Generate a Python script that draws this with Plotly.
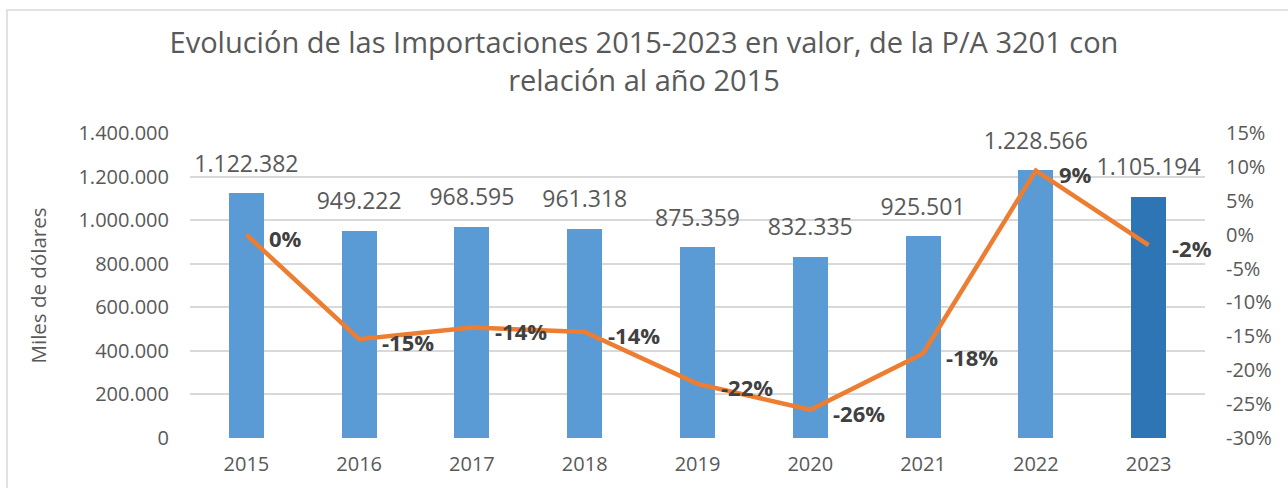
import plotly.graph_objects as go

years = ["2015", "2016", "2017", "2018", "2019", "2020", "2021", "2022", "2023"]
imports_value = [1122382, 949222, 968595, 961318, 875359, 832335, 925501, 1228566, 1105194]
pct_change = [0.0, -15.43, -13.70, -14.35, -22.01, -25.84, -17.54, 9.46, -1.53]
bar_colors = ["#5B9BD5"] * 8 + ["#2E75B6"]
left_ticks = [0, 200000, 400000, 600000, 800000, 1000000, 1200000, 1400000]
right_ticks = [-30, -25, -20, -15, -10, -5, 0, 5, 10, 15]
right_ticktext = [f"{v}%" for v in right_ticks]
pct_text = [f"{round(v):d}%" for v in pct_change]

FONT = "Open Sans"
GRAY = "#595959"

W, H = 1288, 488
L, R, T, B = 190, 83, 133, 50
PW, PH = W - L - R, H - T - B

fig = go.Figure()
fig.add_trace(go.Bar(
    x=years, y=imports_value, marker=dict(color=bar_colors, line=dict(width=0)),
    width=0.31, yaxis="y", hoverinfo="skip",
))
# bar value labels
fig.add_trace(go.Scatter(
    x=years, y=imports_value, mode="markers+text",
    marker=dict(size=24, color="rgba(0,0,0,0)"),
    text=[f"{v:,}".replace(",", ".") for v in imports_value],
    textposition="top center", textfont=dict(family=FONT, size=23, color=GRAY),
    cliponaxis=False, yaxis="y", hoverinfo="skip",
))
fig.add_trace(go.Scatter(
    x=years, y=pct_change, mode="lines", yaxis="y2",
    line=dict(color="#ED7D31", width=4.5),
    cliponaxis=False, hoverinfo="skip",
))

# percentage labels: x given as category index on the category axis
annotations = [
    dict(x=i, y=p, xref="x", yref="y2", text=t, showarrow=False,
         xanchor="left", yanchor="middle", xshift=21, yshift=-3,
         font=dict(family=FONT, size=22, color="#404040", weight="bold"))
    for i, (p, t) in enumerate(zip(pct_change, pct_text))
]

fig.update_layout(
    width=W, height=H, margin=dict(l=L, r=R, t=T, b=B),
    paper_bgcolor="white", plot_bgcolor="white", showlegend=False,
    separators=",.",
    font=dict(family=FONT, color=GRAY),
    title=dict(
        text="Evolución de las Importaciones 2015-2023 en valor, de la P/A 3201 con<br>relación al año 2015",
        x=0.5, xanchor="center", y=1 - 53 / H, yanchor="middle",
        font=dict(family=FONT, size=29, color=GRAY),
    ),
    bargap=0,
    xaxis=dict(
        type="category", categoryorder="array", categoryarray=years,
        range=[-0.5, len(years) - 0.5], autorange=False,
        showgrid=False, ticks="", showline=False,
        tickfont=dict(family=FONT, size=20, color=GRAY), ticklabelstandoff=12,
    ),
    yaxis=dict(
        range=[0, 1400000], tickvals=left_ticks, tickformat=",.0f",
        showgrid=True, gridcolor="#D9D9D9", gridwidth=1.5, zeroline=False,
        tickfont=dict(family=FONT, size=20, color=GRAY), ticks="", ticklabelstandoff=20,
        title=dict(text="Miles de dólares", font=dict(family=FONT, size=20.5, color=GRAY), standoff=26),
    ),
    yaxis2=dict(
        range=[-30, 15], overlaying="y", side="right", tickvals=right_ticks,
        ticktext=right_ticktext, showgrid=False, zeroline=False, ticks="",
        tickfont=dict(family=FONT, size=20, color=GRAY), ticklabelstandoff=20,
    ),
    annotations=annotations,
    shapes=[dict(
        type="rect", xref="paper", yref="paper",
        x0=(7 - L) / PW, x1=(W + 20 - L) / PW,
        y0=-0.5, y1=(H - 10 - B) / PH,
        line=dict(color="#D9D9D9", width=1.5), fillcolor="rgba(0,0,0,0)", layer="below",
    )],
)

fig.write_html("out.html", config={"displayModeBar": False},
               post_script="document.body.style.margin='0';")
